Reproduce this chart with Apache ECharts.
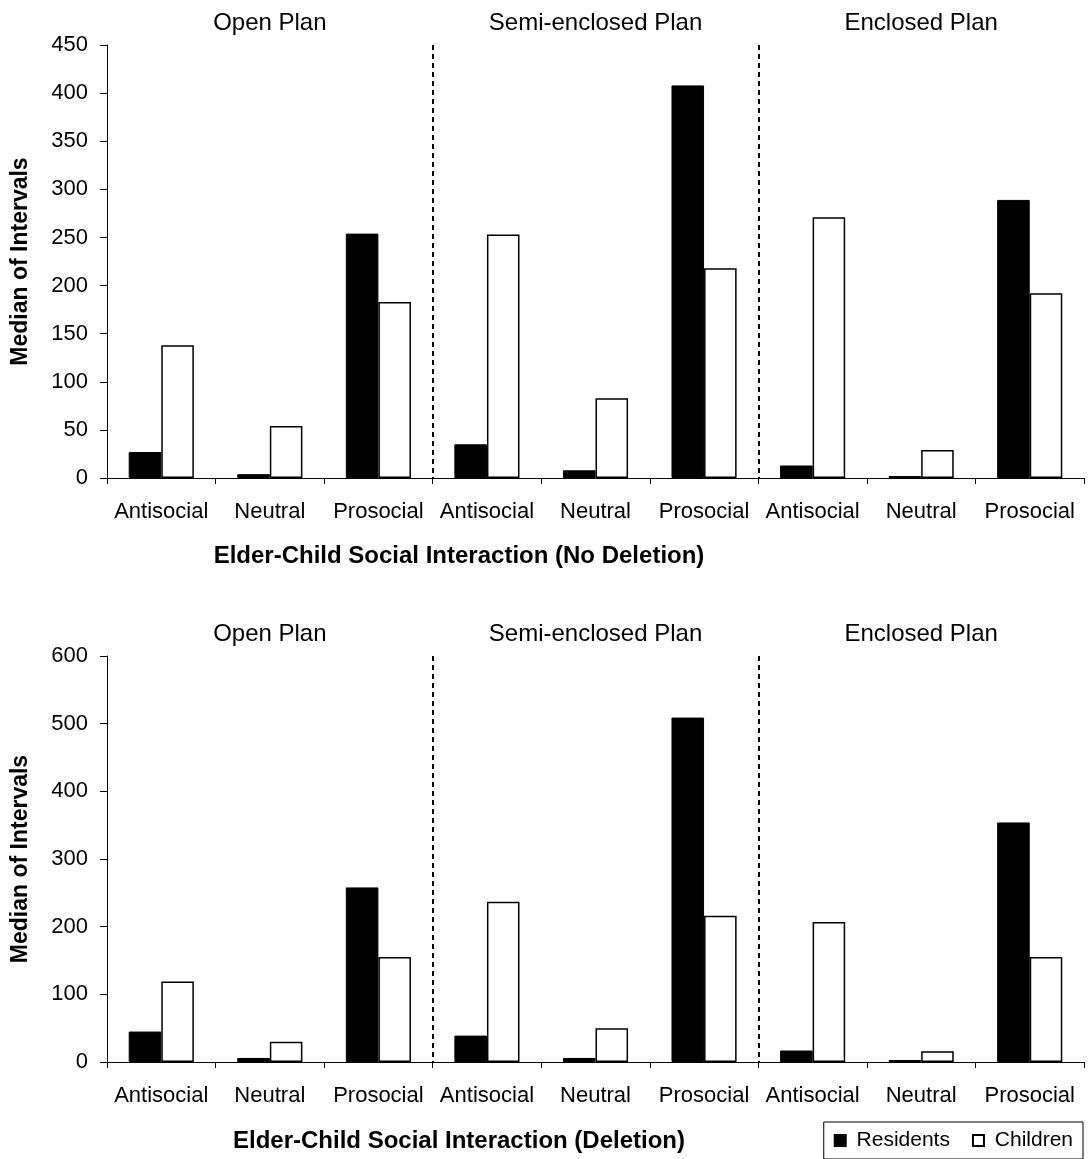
<!DOCTYPE html>
<html><head><meta charset="utf-8">
<script src="https://cdn.jsdelivr.net/npm/echarts@6/dist/echarts.min.js"></script>
<style>html,body{margin:0;padding:0;background:#fff}#c{width:1088px;height:1159px}</style>
</head><body><div id="c"></div>
<script>
const categories = ['Antisocial','Neutral','Prosocial','Antisocial','Neutral','Prosocial','Antisocial','Neutral','Prosocial'];
const plans = ['Open Plan','Semi-enclosed Plan','Enclosed Plan'];
const seriesNames = ['Residents','Children'];
const noDelResidents = [27, 4, 254, 35, 8, 408, 13, 2, 289];
const noDelChildren  = [138, 54, 183, 253, 83, 218, 271, 29, 192];
const delResidents   = [45, 6, 258, 39, 6, 509, 17, 3, 354];
const delChildren    = [119, 30, 155, 237, 50, 216, 207, 16, 155];
const topYTicks = [0, 50, 100, 150, 200, 250, 300, 350, 400, 450];
const bottomYTicks = [0, 100, 200, 300, 400, 500, 600];
const yTitle = 'Median of Intervals';
const xTitleTop = 'Elder-Child Social Interaction (No Deletion)';
const xTitleBottom = 'Elder-Child Social Interaction (Deletion)';

const FONT = "'Liberation Sans', Arial, sans-serif";
const chart = echarts.init(document.getElementById('c'), null, {renderer: 'canvas'});

function mainX(gridIndex) {
  return {
    type: 'category', gridIndex, data: categories, position: 'bottom',
    axisLine: {lineStyle: {color: '#000', width: 1}},
    axisTick: {show: true, length: 6, lineStyle: {color: '#000'}},
    axisLabel: {color: '#000', fontSize: 22, fontFamily: FONT, margin: 23, interval: 0},
    splitLine: {show: false}
  };
}
function planX(gridIndex) {
  return {
    type: 'category', gridIndex, data: plans, position: 'top',
    axisLine: {show: false}, axisTick: {show: false},
    axisLabel: {color: '#000', fontSize: 24, fontFamily: FONT, margin: 10, interval: 0},
    splitLine: {show: true, showMinLine: false, showMaxLine: false,
      lineStyle: {color: '#000', width: 2, type: [5, 4]}}
  };
}
function yAx(gridIndex, ticks) {
  return {
    type: 'value', gridIndex, min: ticks[0], max: ticks[ticks.length - 1],
    interval: ticks[1] - ticks[0],
    name: yTitle, nameLocation: 'middle', nameGap: 75,
    nameTextStyle: {color: '#000', fontSize: 23, fontWeight: 'bold', fontFamily: FONT},
    axisLine: {show: true, lineStyle: {color: '#000', width: 1}},
    axisTick: {show: true, length: 7, lineStyle: {color: '#000'}},
    axisLabel: {color: '#000', fontSize: 22, fontFamily: FONT, margin: 19},
    splitLine: {show: false}
  };
}
function bars(xi, yi, res, chi) {
  return [
    {type: 'bar', name: seriesNames[0], xAxisIndex: xi, yAxisIndex: yi, data: res,
     barCategoryGap: '40%', barGap: '0%',
     itemStyle: {color: '#000', borderColor: '#000', borderWidth: 1}},
    {type: 'bar', name: seriesNames[1], xAxisIndex: xi, yAxisIndex: yi, data: chi,
     barCategoryGap: '40%', barGap: '0%',
     itemStyle: {color: '#fff', borderColor: '#000', borderWidth: 1.5}}
  ];
}

chart.setOption({
  animation: false,
  backgroundColor: '#fff',
  grid: [
    {left: 107, right: 4, top: 45, height: 433},
    {left: 107, right: 4, top: 656, height: 406}
  ],
  xAxis: [mainX(0), planX(0), mainX(1), planX(1)],
  yAxis: [yAx(0, topYTicks), yAx(1, bottomYTicks)],
  legend: {
    data: seriesNames, right: 5, top: 1122, orient: 'horizontal',
    borderColor: '#000', borderWidth: 1, borderRadius: 0,
    padding: [8, 10, 8, 10], itemGap: 22, itemWidth: 11, itemHeight: 11, icon: 'rect',
    formatter: function (n) { return ' ' + n; },
    textStyle: {color: '#000', fontSize: 21, fontFamily: FONT}
  },
  graphic: [
    {type: 'text', x: 459, y: 556, style: {text: xTitleTop, fill: '#000', font: 'bold 24px ' + FONT, align: 'center', verticalAlign: 'middle'}},
    {type: 'text', x: 459, y: 1141, style: {text: xTitleBottom, fill: '#000', font: 'bold 24px ' + FONT, align: 'center', verticalAlign: 'middle'}}
  ],
  series: [].concat(bars(0, 0, noDelResidents, noDelChildren), bars(2, 1, delResidents, delChildren))
});
</script>
</body></html>
